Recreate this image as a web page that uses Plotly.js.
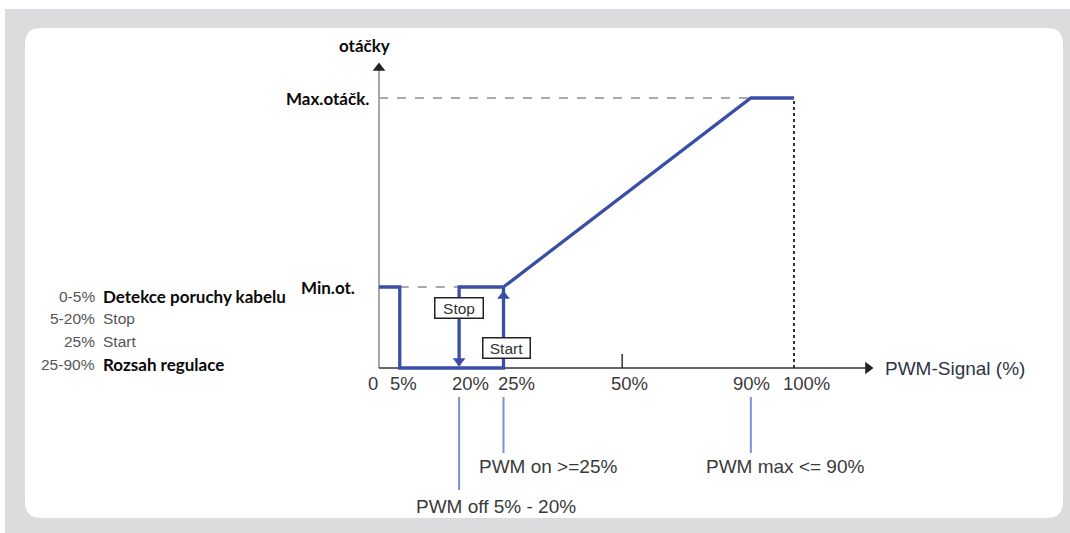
<!DOCTYPE html>
<html><head><meta charset="utf-8">
<script src="https://cdn.plot.ly/plotly-3.0.1.min.js"></script>
<style>body{margin:0;background:#fff}#c{width:1070px;height:533px}</style>
</head><body><div id="c"></div>
<script>
// ---- data ----
const pwmLabels = ["0", "5%", "20%", "25%", "50%", "90%", "100%"];
const pwmPos = [0, 5, 19.3, 30, 58.6, 89.6, 100];       // diagram position of each PWM value
const speedMin = 30, speedMax = 100;                     // Min.ot. / Max.otáčk. levels
const curveX = [0, 5, 5, 30, 30, 89.6, 100];
const curveY = [30, 30, 0, 0, 30, 100, 100];
const stopX = [30, 19.3, 19.3];
const stopY = [30, 30, 1];
const legendRange = ["0-5%", "5-20%", "25%", "25-90%"];
const legendText = ["Detekce poruchy kabelu", "Stop", "Start", "Rozsah regulace"];
const legendBold = [true, false, false, true];
const callouts = ["PWM off 5% - 20%", "PWM on >=25%", "PWM max <= 90%"];
const calloutAt = [19.3, 30, 89.6];

// ---- geometry helpers ----
const W = 1070, H = 533;
const X0 = 379, KX = 4.15, Y0 = 368, KY = 2.7;
const xr = [-X0 / KX, (W - X0) / KX];
const yr = [-(H - Y0) / KY, Y0 / KY];
const px = p => (p - X0) / KX;   // pixel -> data x
const py = p => (Y0 - p) / KY;   // pixel -> data y
const pxp = p => p / W, pyp = p => 1 - p / H;

function roundRect(x1, y1, x2, y2, r) {
  const a = v => pxp(v), b = v => pyp(v);
  return `M ${a(x1 + r)} ${b(y1)} L ${a(x2 - r)} ${b(y1)} Q ${a(x2)} ${b(y1)} ${a(x2)} ${b(y1 + r)} ` +
    `L ${a(x2)} ${b(y2 - r)} Q ${a(x2)} ${b(y2)} ${a(x2 - r)} ${b(y2)} L ${a(x1 + r)} ${b(y2)} ` +
    `Q ${a(x1)} ${b(y2)} ${a(x1)} ${b(y2 - r)} L ${a(x1)} ${b(y1 + r)} Q ${a(x1)} ${b(y1)} ${a(x1 + r)} ${b(y1)} Z`;
}

const BLUE = "#3b4ea6", LBLUE = "#7f8fcc", ARIAL = "Liberation Sans, Arial, sans-serif", CAL = "Lato, Open Sans, sans-serif";
const BOLDF = {family: CAL, size: 17, color: "#0a0a0a", weight: "bold"};
const traces = [];
const line = (x, y, color, width, dash) => traces.push({x, y, mode: "lines", line: {color, width, dash: dash || "solid"}, hoverinfo: "skip", showlegend: false});
const tri = (x, y, sym, color, size) => traces.push({x: [x], y: [y], mode: "markers", marker: {symbol: sym, size, color}, hoverinfo: "skip", showlegend: false});

// axes
line([0, 0], [0, py(70)], "#8a8a8a", 1.5);
tri(0, py(68), "triangle-up", "#222", 11);
line([0, px(866)], [0, 0], "#333", 1.5);
tri(px(868), 0, "triangle-right", "#222", 11);
line([pwmPos[4], pwmPos[4]], [0, py(354)], "#333", 1.5);
// reference dashed lines
line([0, pwmPos[5]], [speedMax, speedMax], "#aaaaaa", 1.8, "dash");
line([pwmPos[1], pwmPos[2]], [speedMin, speedMin], "#aaaaaa", 1.8, "dash");
line([pwmPos[6], pwmPos[6]], [0, speedMax], "#333", 2, "dot");
// curve
line(curveX, curveY, BLUE, 3.3);
line(stopX, stopY, BLUE, 3.3);
tri(pwmPos[2], py(361), "triangle-down", BLUE, 11);
tri(pwmPos[3], py(296), "triangle-up", BLUE, 11);
// callout lines
line([calloutAt[0], calloutAt[0]], [py(397), py(490)], LBLUE, 2);
line([calloutAt[1], calloutAt[1]], [py(397), py(453)], LBLUE, 2);
line([calloutAt[2], calloutAt[2]], [py(397), py(453)], LBLUE, 2);

const ann = [];
const A = (x, y, text, o) => ann.push(Object.assign({x, y, xref: "x", yref: "y", text, showarrow: false, font: {family: ARIAL, size: 19, color: "#3a3a3a"}}, o || {}));

// tick labels
const tickShift = [-6, 4, 11, 13, 7, 1, 12];
pwmLabels.forEach((t, i) => A(pwmPos[i], py(383), t, {xshift: tickShift[i], font: {family: ARIAL, size: 18.5, color: "#3a3a3a"}}));
A(px(883), 0, "PWM-Signal (%)", {xanchor: "left", font: {family: ARIAL, size: 19, color: "#2f3545"}});
A(px(364), py(45), "otáčky", {font: BOLDF});
A(px(371), speedMax, "Max.otáčk.", {xanchor: "right", font: BOLDF});
A(px(299), py(287), "Min.ot.", {xanchor: "left", font: BOLDF});
// legend text
const legY = [296, 318, 341, 364];
legendRange.forEach((t, i) => {
  A(px(97), py(legY[i]), t, {xanchor: "right", font: {family: ARIAL, size: 15.5, color: "#555"}});
  A(px(101), py(legY[i]), legendText[i], {xanchor: "left", font: legendBold[i] ? BOLDF : {family: ARIAL, size: 15.5, color: "#555"}});
});
// boxes
const boxFont = {family: ARIAL, size: 15.5, color: "#333"};
A(pwmPos[2], py(308), "Stop", {bgcolor: "#fff", bordercolor: "#222", borderwidth: 1.5, borderpad: 1, width: 45, font: boxFont});
A(px(506), py(348), "Start", {bgcolor: "#fff", bordercolor: "#222", borderwidth: 1.5, borderpad: 1, width: 44, font: boxFont});
// callouts
A(px(496), py(506), callouts[0]);
A(px(548), py(466), callouts[1]);
A(px(785), py(466), callouts[2]);

const layout = {
  width: W, height: H, margin: {l: 0, r: 0, t: 0, b: 0},
  paper_bgcolor: "#ffffff", plot_bgcolor: "rgba(0,0,0,0)",
  xaxis: {range: xr, visible: false, fixedrange: true},
  yaxis: {range: yr, visible: false, fixedrange: true},
  shapes: [
    {type: "rect", xref: "paper", yref: "paper", x0: pxp(5), x1: 1, y0: 0, y1: pyp(9), fillcolor: "#dcdcde", line: {width: 0}, layer: "below"},
    {type: "path", xref: "paper", yref: "paper", path: roundRect(25, 28, 1063, 518, 16), fillcolor: "#ffffff", line: {width: 0}, layer: "below"}
  ],
  annotations: ann, showlegend: false
};
Plotly.newPlot("c", traces, layout, {displayModeBar: false, staticPlot: true});
</script></body></html>
